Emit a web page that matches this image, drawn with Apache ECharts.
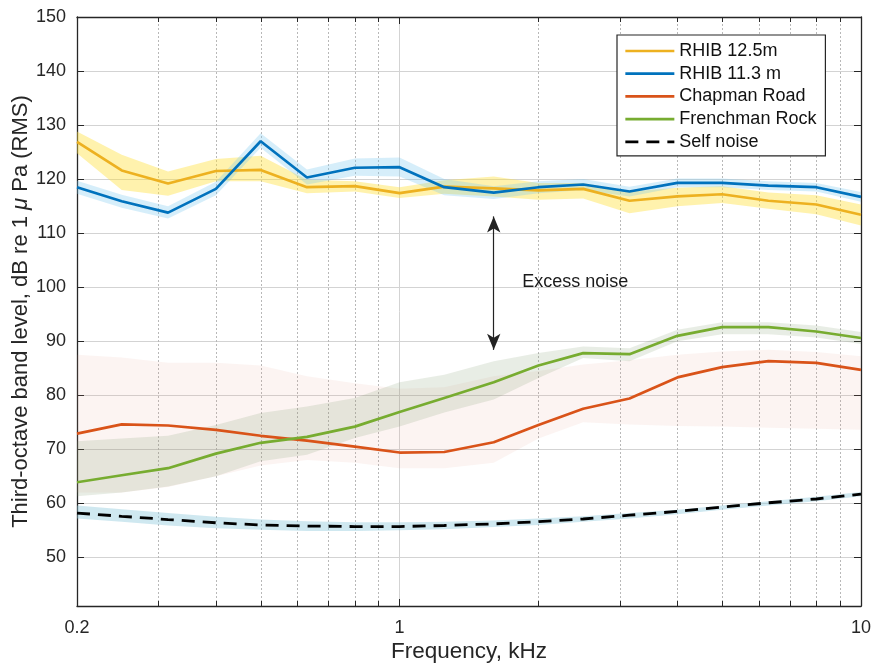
<!DOCTYPE html>
<html>
<head>
<meta charset="utf-8">
<script src="https://cdn.jsdelivr.net/npm/echarts@6/dist/echarts.min.js"></script>
<style>
  html, body { margin: 0; padding: 0; background: #fff; }
  #chart { width: 873px; height: 665px; }
</style>
</head>
<body>
<div id="chart"></div>
<script>
// third-octave centre frequencies, kHz
const freq = [0.2, 0.25, 0.315, 0.4, 0.5, 0.63, 0.8, 1, 1.25, 1.6, 2, 2.5, 3.15, 4, 5, 6.3, 8, 10]

// mean levels, dB re 1 uPa
const rhib125 = [126.9, 121.6, 119.2, 121.5, 121.7, 118.5, 118.7, 117.4, 118.6, 118.3, 117.9, 118.2, 116.0, 116.8, 117.2, 116.0, 115.3, 113.4]
const rhib113 = [118.5, 115.9, 113.8, 118.2, 127.0, 120.3, 122.1, 122.2, 118.5, 117.5, 118.5, 119.0, 117.7, 119.3, 119.3, 118.8, 118.5, 116.7]
const chapman = [72.9, 74.6, 74.4, 73.6, 72.5, 71.6, 70.5, 69.4, 69.5, 71.3, 74.5, 77.5, 79.4, 83.3, 85.2, 86.3, 86.0, 84.7]
const frenchman = [63.9, 65.2, 66.5, 69.2, 71.2, 72.3, 74.2, 76.9, 79.5, 82.4, 85.5, 87.8, 87.6, 91.0, 92.6, 92.6, 91.8, 90.6]
const selfNoise = [58.2, 57.6, 57.0, 56.4, 56.0, 55.8, 55.7, 55.7, 55.9, 56.2, 56.6, 57.1, 57.8, 58.5, 59.3, 60.1, 60.8, 61.7]

// spread bands (upper / lower)
const rhib125Hi = [128.8, 124.5, 121.4, 123.7, 124.3, 119.9, 119.6, 118.5, 119.8, 120.5, 119.3, 119.3, 117.7, 118.4, 118.7, 117.5, 117.0, 115.3]
const rhib125Lo = [124.8, 118.0, 116.9, 119.6, 119.6, 117.4, 117.7, 116.5, 117.3, 116.8, 116.2, 116.4, 113.7, 115.0, 115.6, 114.5, 113.5, 111.4]
const rhib113Hi = [119.7, 117.1, 115.0, 119.5, 128.5, 121.8, 123.8, 124.0, 120.0, 118.7, 119.6, 120.0, 118.6, 120.1, 120.1, 119.6, 119.3, 117.6]
const rhib113Lo = [117.3, 114.7, 112.7, 117.0, 125.8, 119.0, 120.6, 120.5, 117.0, 116.3, 117.4, 118.0, 116.8, 118.5, 118.5, 118.0, 117.7, 115.8]
const chapmanHi = [87.5, 87.0, 86.0, 86.0, 85.5, 83.5, 82.2, 81.2, 81.5, 83.5, 84.5, 85.7, 86.5, 87.5, 88.1, 88.4, 88.0, 87.2]
const chapmanLo = [62.0, 62.0, 63.0, 65.0, 67.0, 68.0, 67.5, 66.5, 66.5, 67.5, 72.0, 75.0, 74.6, 74.3, 74.2, 74.0, 73.8, 73.6]
const frenchmanHi = [71.5, 72.0, 72.5, 74.5, 76.7, 77.9, 79.5, 82.4, 83.8, 86.3, 87.8, 89.0, 88.7, 92.1, 93.5, 93.5, 92.9, 91.7]
const frenchmanLo = [61.3, 62.0, 63.1, 65.0, 67.8, 69.0, 72.1, 74.2, 76.8, 79.2, 83.2, 86.9, 86.3, 90.0, 91.3, 91.3, 90.7, 89.5]
const selfHi = [59.6, 58.9, 58.2, 57.5, 57.0, 56.7, 56.5, 56.5, 56.6, 56.8, 57.2, 57.6, 58.2, 58.8, 59.6, 60.4, 61.2, 62.1]
const selfLo = [57.2, 56.6, 55.9, 55.4, 55.1, 54.9, 54.9, 55.0, 55.2, 55.6, 56.0, 56.6, 57.2, 58.0, 58.8, 59.6, 60.4, 61.3]

// axes
const yTicks = [50, 60, 70, 80, 90, 100, 110, 120, 130, 140, 150]
const minorFreq = [0.3, 0.4, 0.5, 0.6, 0.7, 0.8, 0.9, 2, 3, 4, 5, 6, 7, 8, 9]
const Y_MIN = 41
const Y_MAX = 150

// annotation
const arrowFreq = 1.6
const arrowRange = [88.4, 113.1]
const noteText = 'Excess noise'
const notePos = [1.84, 101]

const FONT = 'Liberation Sans, Arial, Helvetica, sans-serif'
const INK = '#262626'

const chart = echarts.init(document.getElementById('chart'))

function bandSeries(name, lo, hi, fill) {
  return {
    name: name,
    type: 'custom',
    silent: true,
    data: freq.map((f, i) => [f, lo[i], hi[i]]),
    encode: { x: 0, y: [1, 2] },
    renderItem(params, api) {
      if (params.dataIndex !== 0) return null
      const up = freq.map((f, i) => api.coord([f, hi[i]]))
      const down = freq.map((f, i) => api.coord([f, lo[i]])).reverse()
      return {
        type: 'polygon',
        shape: { points: up.concat(down) },
        style: { fill: fill }
      }
    }
  }
}

function lineSeries(name, values, color, extra) {
  return Object.assign({
    name: name,
    type: 'line',
    data: freq.map((f, i) => [f, values[i]]),
    symbol: 'none',
    showSymbol: false,
    silent: true,
    lineStyle: { color: color, width: 2.7 },
    itemStyle: { color: color }
  }, extra || {})
}

const option = {
  animation: false,
  backgroundColor: '#fff',
  textStyle: { fontFamily: FONT },
  grid: { left: 77, right: 12, top: 17, bottom: 59, outerBoundsMode: 'none', containLabel: false },
  legend: {
    orient: 'vertical',
    left: 617,
    top: 35,
    padding: [7, 9, 5, 7],
    itemGap: 4.7,
    itemWidth: 49,
    itemHeight: 16,
    itemStyle: { opacity: 0 },
    lineStyle: { width: 2.7 },
    borderColor: INK,
    borderWidth: 1.2,
    backgroundColor: '#fff',
    textStyle: { fontSize: 18, color: '#111', fontFamily: FONT },
    data: ['RHIB 12.5m', 'RHIB 11.3 m', 'Chapman Road', 'Frenchman Rock', 'Self noise']
  },
  xAxis: [
    {
      type: 'log',
      logBase: 10,
      min: 0.2,
      max: 10,
      name: 'Frequency, kHz',
      nameLocation: 'middle',
      nameGap: 34,
      nameMoveOverlap: false,
      nameTextStyle: { fontSize: 22.5, color: INK, fontFamily: FONT },
      axisLine: { lineStyle: { color: INK, width: 1.3 } },
      axisTick: { inside: true, length: 7, lineStyle: { color: INK } },
      axisLabel: { fontSize: 18, color: INK, margin: 13, fontFamily: FONT },
      splitLine: { show: true, lineStyle: { color: '#d3d3d3', width: 1 } }
    },
    {
      type: 'log',
      logBase: 10,
      min: 0.2,
      max: 10,
      position: 'top',
      axisLine: { lineStyle: { color: INK, width: 1.3 } },
      axisTick: { inside: true, length: 7, lineStyle: { color: INK } },
      axisLabel: { show: false },
      splitLine: { show: false }
    }
  ],
  yAxis: [
    {
      type: 'value',
      min: Y_MIN,
      max: Y_MAX,
      name: '{t|Third-octave band level, dB re 1 }{m|μ}{t| Pa (RMS)}',
      nameLocation: 'middle',
      nameGap: 45,
      nameMoveOverlap: false,
      nameTextStyle: {
        color: INK,
        rich: {
          t: { fontSize: 22, color: INK, fontFamily: FONT },
          m: { fontSize: 22, color: INK, fontFamily: FONT, fontStyle: 'italic' }
        }
      },
      axisLine: { show: true, lineStyle: { color: INK, width: 1.3 } },
      axisTick: { show: true, inside: true, length: 7, customValues: yTicks, lineStyle: { color: INK } },
      axisLabel: { fontSize: 18, color: INK, margin: 11, customValues: yTicks, fontFamily: FONT },
      splitLine: { show: true, lineStyle: { color: '#d3d3d3', width: 1 } }
    },
    {
      type: 'value',
      min: Y_MIN,
      max: Y_MAX,
      position: 'right',
      axisLine: { show: true, lineStyle: { color: INK, width: 1.3 } },
      axisTick: { show: true, inside: true, length: 7, customValues: yTicks, lineStyle: { color: INK } },
      axisLabel: { show: false },
      splitLine: { show: false }
    }
  ],
  series: [
    // dotted minor grid + minor ticks, drawn through the log axis
    {
      name: 'minor-grid',
      type: 'custom',
      silent: true,
      z: 1,
      data: minorFreq.map(f => [f, Y_MIN]),
      encode: { x: 0, y: 1 },
      renderItem(params, api) {
        const f = api.value(0)
        const bot = api.coord([f, Y_MIN])
        const top = api.coord([f, Y_MAX])
        const x = Math.round(bot[0]) + 0.5
        return {
          type: 'group',
          children: [
            { type: 'line', shape: { x1: x, y1: bot[1], x2: x, y2: top[1] },
              style: { stroke: '#b8b8b8', lineWidth: 1, lineDash: [2, 2] } },
            { type: 'line', shape: { x1: x, y1: bot[1], x2: x, y2: bot[1] - 5 },
              style: { stroke: INK, lineWidth: 1 } },
            { type: 'line', shape: { x1: x, y1: top[1], x2: x, y2: top[1] + 5 },
              style: { stroke: INK, lineWidth: 1 } }
          ]
        }
      }
    },
    bandSeries('band-rhib125', rhib125Lo, rhib125Hi, 'rgba(255, 224, 60, 0.42)'),
    lineSeries('RHIB 12.5m', rhib125, '#EDB120'),
    bandSeries('band-rhib113', rhib113Lo, rhib113Hi, 'rgba(120, 200, 240, 0.3)'),
    lineSeries('RHIB 11.3 m', rhib113, '#0072BD'),
    bandSeries('band-chapman', chapmanLo, chapmanHi, 'rgba(230, 150, 130, 0.1)'),
    lineSeries('Chapman Road', chapman, '#D95319'),
    bandSeries('band-frenchman', frenchmanLo, frenchmanHi, 'rgba(120, 150, 100, 0.17)'),
    lineSeries('Frenchman Rock', frenchman, '#77AC30'),
    bandSeries('band-self', selfLo, selfHi, 'rgba(140, 200, 220, 0.42)'),
    lineSeries('Self noise', selfNoise, '#000', {
      lineStyle: { color: '#000', width: 2.8, type: [13, 8] },
      markLine: {
        silent: true,
        symbol: ['arrow', 'arrow'],
        symbolSize: [10, 16],
        lineStyle: { color: '#222', width: 1.2, type: 'solid' },
        label: { show: false },
        data: [[{ coord: [arrowFreq, arrowRange[0]] }, { coord: [arrowFreq, arrowRange[1]] }]]
      },
      markPoint: {
        silent: true,
        symbol: 'circle',
        symbolSize: 1,
        itemStyle: { color: 'rgba(0,0,0,0)' },
        label: { show: true, position: 'right', distance: 0, formatter: noteText, fontSize: 18, color: '#1a1a1a', fontFamily: FONT },
        data: [{ coord: notePos }]
      }
    })
  ]
}

chart.setOption(option)
</script>
</body>
</html>
